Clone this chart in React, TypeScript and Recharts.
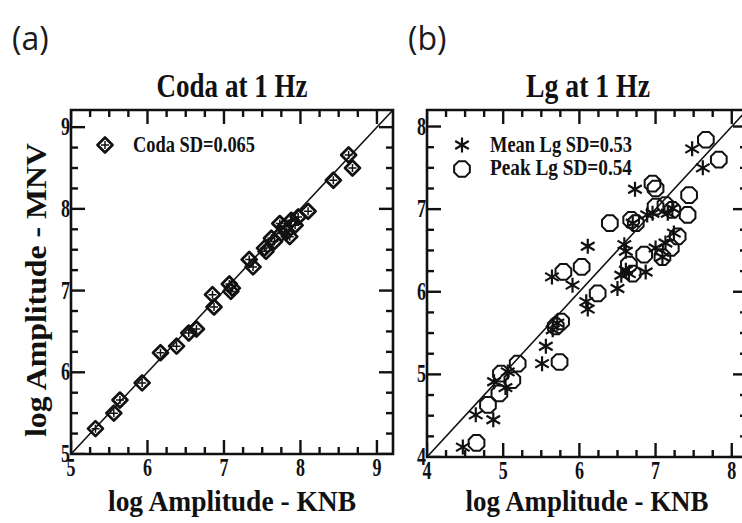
import React from 'react';
import { ScatterChart, Scatter, XAxis, YAxis, ReferenceLine, ReferenceArea, Legend } from 'recharts';

// panel (a): coda amplitudes, KNB vs MNV
const codaKnb = [5.32, 5.56, 5.64, 5.93, 6.17, 6.38, 6.54, 6.64, 6.85, 6.87, 7.07, 7.11, 7.09, 7.33, 7.38, 7.53, 7.55, 7.62, 7.73, 7.75, 7.82, 7.86, 7.88, 7.93, 7.97, 8.1, 8.43, 8.63, 8.68, 7.79, 7.66];
const codaMnv = [5.31, 5.5, 5.66, 5.87, 6.24, 6.32, 6.48, 6.53, 6.95, 6.8, 7.08, 7.03, 6.99, 7.38, 7.29, 7.52, 7.48, 7.64, 7.82, 7.7, 7.72, 7.66, 7.86, 7.8, 7.9, 7.97, 8.35, 8.66, 8.5, 7.78, 7.6];

// panel (b): Lg amplitudes
const meanKnb = [4.47, 4.64, 4.87, 4.88, 5.03, 5.06, 5.51, 5.56, 5.65, 5.71, 5.64, 5.91, 6.11, 6.11, 6.09, 6.5, 6.55, 6.61, 6.65, 6.59, 6.61, 6.73, 6.7, 6.87, 6.89, 6.96, 7.0, 7.13, 7.16, 7.22, 7.24, 7.48, 7.62, 7.09];
const meanMnv = [4.12, 4.51, 4.45, 4.91, 4.84, 5.03, 5.13, 5.34, 5.54, 5.62, 6.18, 6.08, 6.55, 5.79, 5.88, 6.04, 6.2, 6.26, 6.22, 6.57, 6.49, 7.24, 6.83, 6.24, 6.93, 6.95, 6.53, 6.59, 6.95, 7.01, 6.71, 7.73, 7.5, 6.42];
const peakKnb = [4.65, 4.8, 4.95, 4.97, 5.12, 5.19, 5.74, 5.76, 5.69, 5.79, 6.03, 6.24, 6.4, 6.65, 6.68, 6.7, 6.85, 6.96, 7.0, 7.09, 7.0, 7.13, 7.29, 7.44, 7.42, 7.66, 7.83, 7.2, 6.74, 7.22];
const peakMnv = [4.17, 4.63, 4.77, 5.01, 4.93, 5.13, 5.15, 5.64, 5.58, 6.24, 6.3, 5.98, 6.83, 6.33, 6.87, 6.22, 6.45, 7.31, 7.25, 6.42, 7.03, 7.05, 6.67, 7.17, 6.93, 7.84, 7.6, 6.53, 6.83, 6.99];

const codaDomain = [5, 9.21];
const lgDomain = [4, 8.2];
const codaTicks = [5, 5.25, 5.5, 5.75, 6, 6.25, 6.5, 6.75, 7, 7.25, 7.5, 7.75, 8, 8.25, 8.5, 8.75, 9];
const lgTicks = [4, 4.25, 4.5, 4.75, 5, 5.25, 5.5, 5.75, 6, 6.25, 6.5, 6.75, 7, 7.25, 7.5, 7.75, 8];

const toPoints = (xs: number[], ys: number[]) => xs.map((x, i) => ({ x, y: ys[i] }));

const INK = '#111';
const FONT = '"Liberation Serif", serif';

const DiamondPlus = ({ cx, cy }: any) => (
  <g stroke={INK} fill="none">
    <path d={`M${cx} ${cy - 7.5}L${cx + 7.5} ${cy}L${cx} ${cy + 7.5}L${cx - 7.5} ${cy}Z`} strokeWidth={2.7} strokeLinejoin="round" />
    <path d={`M${cx - 4} ${cy}H${cx + 4}M${cx} ${cy - 4}V${cy + 4}`} strokeWidth={1.5} />
  </g>
);

const Asterisk = ({ cx, cy }: any) => (
  <g stroke={INK} strokeWidth={2.2}>
    <path d={`M${cx} ${cy - 7.5}V${cy + 7.5}M${cx - 6.8} ${cy - 4}L${cx + 6.8} ${cy + 4}M${cx - 6.8} ${cy + 4}L${cx + 6.8} ${cy - 4}`} />
  </g>
);

const Octagon = ({ cx, cy }: any) => {
  const r = 8.5;
  const pts = [0, 1, 2, 3, 4, 5, 6, 7]
    .map((k) => {
      const a = (Math.PI / 8) * (2 * k + 1);
      return `${cx + r * Math.cos(a)},${cy + r * Math.sin(a)}`;
    })
    .join(' ');
  return <polygon points={pts} fill="none" stroke={INK} strokeWidth={2} />;
};

// frame tick marks: one point per tick on each side, drawn inward
const tickLen = (p: any) => (Number.isInteger(p?.t) ? 14 : 7);
const makeTickShape = (dx: number, dy: number) => (props: any) => {
  const { cx, cy, payload } = props;
  const len = tickLen(payload);
  return <path d={`M${cx} ${cy}L${cx + dx * len} ${cy + dy * len}`} stroke={INK} strokeWidth={2.4} fill="none" />;
};
const TickUp = makeTickShape(0, -1);
const TickDown = makeTickShape(0, 1);
const TickRight = makeTickShape(1, 0);
const TickLeft = makeTickShape(-1, 0);

const frameTicks = (ticks: number[], lo: number, hi: number) => ({
  bottom: ticks.map((t) => ({ x: t, y: lo, t })),
  top: ticks.map((t) => ({ x: t, y: hi, t })),
  left: ticks.map((t) => ({ x: lo, y: t, t })),
  right: ticks.map((t) => ({ x: hi, y: t, t })),
});

// labels only on whole numbers
const XLabel = (props: any) => {
  const { x, y, payload } = props;
  if (!Number.isInteger(payload.value)) return <g />;
  return (
    <text x={x} y={y + 22} textAnchor="middle" fontFamily={FONT} fontWeight="bold" fontSize={25} fill={INK} textLength={9} lengthAdjust="spacingAndGlyphs">
      {payload.value}
    </text>
  );
};

const YLabel = (props: any) => {
  const { x, y, payload } = props;
  if (!Number.isInteger(payload.value)) return <g />;
  return (
    <text x={x - 1} y={y + 8} textAnchor="end" fontFamily={FONT} fontWeight="bold" fontSize={25} fill={INK} textLength={9} lengthAdjust="spacingAndGlyphs">
      {payload.value}
    </text>
  );
};

const legendText = (x: number, y: number, s: string, w: number) => (
  <text x={x} y={y} fontFamily={FONT} fontWeight="bold" fontSize={24} fill={INK} textLength={w} lengthAdjust="spacingAndGlyphs">
    {s}
  </text>
);

const CodaLegend = () => (
  <svg width={200} height={32} style={{ display: 'block', overflow: 'visible' }}>
    <DiamondPlus cx={12} cy={14} />
    {legendText(40, 21, 'Coda  SD=0.065', 122)}
  </svg>
);

const LgLegend = () => (
  <svg width={210} height={58} style={{ display: 'block', overflow: 'visible' }}>
    <Asterisk cx={12} cy={14} />
    {legendText(40, 21, 'Mean  Lg  SD=0.53', 142)}
    <Octagon cx={12} cy={38} />
    {legendText(40, 44, 'Peak  Lg  SD=0.54', 142)}
  </svg>
);

const label = (x: number, y: number, s: string, w: number, size: number, rotate = false) => (
  <text
    x={x}
    y={y}
    textAnchor="middle"
    fontFamily={FONT}
    fontWeight="bold"
    fontSize={size}
    fill={INK}
    textLength={w}
    lengthAdjust="spacingAndGlyphs"
    transform={rotate ? `rotate(-90 ${x} ${y})` : undefined}
  >
    {s}
  </text>
);

const TickSeries = ({ f }: any) => null;

const App: React.FC = () => {
  const coda = toPoints(codaKnb, codaMnv);
  const mean = toPoints(meanKnb, meanMnv);
  const peak = toPoints(peakKnb, peakMnv);
  const fa = frameTicks(codaTicks, 5, 9.21);
  const fb = frameTicks(lgTicks, 4, 8.2);

  return (
    <div style={{ position: 'fixed', left: 0, top: 0, width: 742, height: 523, overflow: 'hidden', background: '#fff' }}>
      <div style={{ position: 'absolute', left: 0, top: 0 }}>
        <ScatterChart width={400} height={523} margin={{ top: 110, left: 41, right: 7, bottom: 39 }}>
          <XAxis type="number" dataKey="x" domain={codaDomain} allowDataOverflow ticks={codaTicks} interval={0} height={30} tickSize={0} tickMargin={0} axisLine={false} tickLine={false} tick={XLabel} />
          <YAxis type="number" dataKey="y" domain={codaDomain} allowDataOverflow ticks={codaTicks} interval={0} width={30} tickSize={0} tickMargin={0} axisLine={false} tickLine={false} tick={YLabel} />
          <ReferenceArea x1={5} x2={9.21} y1={5} y2={9.21} fill="none" stroke={INK} strokeWidth={2.6} ifOverflow="visible" />
          <ReferenceLine segment={[{ x: 5, y: 5 }, { x: 9.21, y: 9.21 }]} stroke={INK} strokeWidth={1.6} ifOverflow="visible" />
          <Scatter data={fa.bottom} shape={TickUp} isAnimationActive={false} legendType="none" />
          <Scatter data={fa.top} shape={TickDown} isAnimationActive={false} legendType="none" />
          <Scatter data={fa.left} shape={TickRight} isAnimationActive={false} legendType="none" />
          <Scatter data={fa.right} shape={TickLeft} isAnimationActive={false} legendType="none" />
          <Scatter name="Coda" data={coda} shape={DiamondPlus} isAnimationActive={false} />
          <Legend layout="horizontal" verticalAlign="middle" align="center" wrapperStyle={{ left: 93, top: 131, width: 200 }} content={CodaLegend} />
        </ScatterChart>
      </div>
      <div style={{ position: 'absolute', left: 400, top: 0 }}>
        <ScatterChart width={400} height={523} margin={{ top: 110, left: 0, right: 53, bottom: 36 }}>
          <XAxis type="number" dataKey="x" domain={lgDomain} allowDataOverflow ticks={lgTicks} interval={0} height={30} tickSize={0} tickMargin={0} axisLine={false} tickLine={false} tick={XLabel} />
          <YAxis type="number" dataKey="y" domain={lgDomain} allowDataOverflow ticks={lgTicks} interval={0} width={27} tickSize={0} tickMargin={0} axisLine={false} tickLine={false} tick={YLabel} />
          <ReferenceArea x1={4} x2={8.2} y1={4} y2={8.2} fill="none" stroke={INK} strokeWidth={2.6} ifOverflow="visible" />
          <ReferenceLine segment={[{ x: 4, y: 4 }, { x: 8.2, y: 8.2 }]} stroke={INK} strokeWidth={1.6} ifOverflow="visible" />
          <Scatter data={fb.bottom} shape={TickUp} isAnimationActive={false} legendType="none" />
          <Scatter data={fb.top} shape={TickDown} isAnimationActive={false} legendType="none" />
          <Scatter data={fb.left} shape={TickRight} isAnimationActive={false} legendType="none" />
          <Scatter data={fb.right} shape={TickLeft} isAnimationActive={false} legendType="none" />
          <Scatter name="Mean Lg" data={mean} shape={Asterisk} isAnimationActive={false} />
          <Scatter name="Peak Lg" data={peak} shape={Octagon} isAnimationActive={false} />
          <Legend layout="horizontal" verticalAlign="middle" align="center" wrapperStyle={{ left: 50, top: 131, width: 210 }} content={LgLegend} />
        </ScatterChart>
      </div>
      <svg width={742} height={523} style={{ position: 'absolute', left: 0, top: 0, pointerEvents: 'none' }}>
        <text x={12} y={50} fontFamily='"Open Sans", sans-serif' fontSize={32} fill="#1a1a1a">(a)</text>
        <text x={408} y={50} fontFamily='"Open Sans", sans-serif' fontSize={32} fill="#1a1a1a">(b)</text>
        {label(232, 97, 'Coda  at  1  Hz', 151, 33)}
        {label(588, 97, 'Lg  at  1  Hz', 124, 33)}
        {label(232, 511, 'log Amplitude - KNB', 248, 30)}
        {label(587, 511, 'log Amplitude - KNB', 243, 30)}
        {label(46, 290, 'log Amplitude - MNV', 294, 30, true)}
      </svg>
    </div>
  );
};

export default App;
